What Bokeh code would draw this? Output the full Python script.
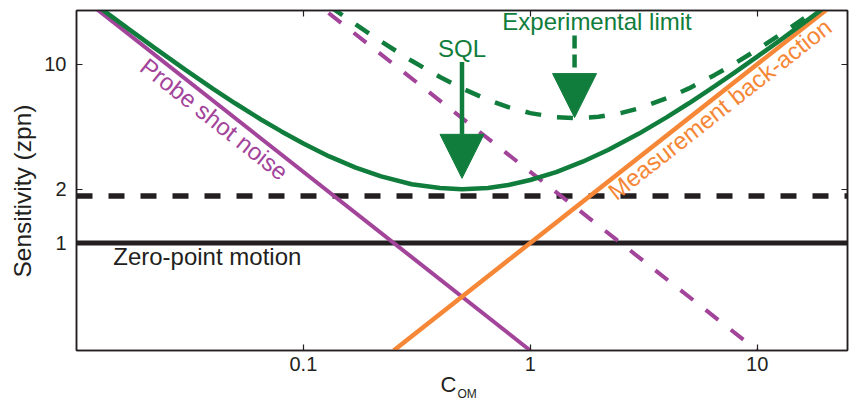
from bokeh.plotting import figure
from bokeh.models import (Range1d, FixedTicker, CustomJSTickFormatter, LogAxis,
                          Label, Arrow, NormalHead, Title)
from bokeh.embed import file_html
from bokeh.resources import INLINE

# ---------------- data ----------------
x_ticks = [0.1, 1, 10]
y_ticks = [1, 2, 10]

span_c = [0.01, 25.0]
zero_point = [1.0, 1.0]
added_noise = [1.83, 1.83]

shot_c = [0.01, 1.0]
shot_val = [25.0, 0.25]

shot_exp_c = [0.1, 10.0]
shot_exp_val = [25.0, 0.25]

ba_c = [0.25, 25.0]
ba_val = [0.25, 25.0]

sql_c = [0.01, 0.013, 0.017, 0.022, 0.03, 0.04, 0.05, 0.065, 0.08, 0.1, 0.13, 0.17,
         0.22, 0.3, 0.4, 0.5, 0.65, 0.8, 1.0, 1.3, 1.7, 2.2, 3.0, 4.0, 5.0, 6.5, 8.0,
         10.0, 13.0, 17.0, 22.0, 25.0]
sql_val = [26.01, 20.24, 15.73, 12.39, 9.36, 7.29, 6.05, 4.91, 4.21, 3.6, 3.05, 2.64,
           2.36, 2.13, 2.03, 2.0, 2.03, 2.11, 2.25, 2.49, 2.85, 3.31, 4.08, 5.06, 6.05,
           7.54, 9.03, 11.03, 14.02, 18.01, 23.01, 26.01]

exp_c = [0.1, 0.13, 0.17, 0.22, 0.3, 0.4, 0.5, 0.65, 0.8, 1.0, 1.3, 1.6, 2.0, 2.5, 3.0,
         4.0, 5.0, 6.5, 8.0, 10.0, 13.0, 17.0, 22.0, 25.0]
exp_val = [26.93, 21.19, 16.71, 13.41, 10.46, 8.48, 7.33, 6.33, 5.76, 5.33, 5.05, 4.99,
           5.08, 5.33, 5.66, 6.46, 7.33, 8.72, 10.14, 12.08, 15.02, 18.98, 23.94, 26.93]

# ---------------- style ----------------
GREEN = "#107d3c"
PURPLE = "#a3449b"
ORANGE = "#f58737"
BLACK = "#231f20"
FONT = "Liberation Sans"

p = figure(width=850, height=401, x_axis_type="log", y_axis_type="log",
           x_range=Range1d(0.01, 25), y_range=Range1d(0.25, 20),
           output_backend="svg", toolbar_location=None,
           min_border_left=76, min_border_right=3, min_border_top=10, min_border_bottom=51)
p.grid.visible = False
p.outline_line_color = BLACK
p.outline_line_width = 1.5
p.background_fill_color = "white"
p.border_fill_color = "white"

fmt = CustomJSTickFormatter(code="return tick.toString();")

def style_axis(ax, ticks, show_labels, standoff):
    ax.ticker = FixedTicker(ticks=ticks)
    ax.formatter = fmt
    ax.major_tick_in = 6
    ax.major_tick_out = 0
    ax.minor_tick_line_color = None
    ax.axis_line_color = BLACK
    ax.axis_line_width = 1.5
    ax.major_tick_line_color = BLACK
    ax.major_tick_line_width = 1.2
    ax.major_label_text_font = FONT
    ax.major_label_standoff = standoff
    if show_labels:
        ax.major_label_text_color = BLACK
        ax.major_label_text_font_size = "20px"
    else:
        ax.major_label_text_color = None
        ax.major_label_text_font_size = "1px"

style_axis(p.xaxis[0], x_ticks, True, 6)
style_axis(p.yaxis[0], y_ticks, True, 10)

top = LogAxis()
style_axis(top, x_ticks, False, 0)
p.add_layout(top, "above")
right = LogAxis()
style_axis(right, y_ticks, False, 0)
p.add_layout(right, "right")

# axis titles as Title objects so they can be placed precisely
def add_title(text, side, size, align, offset, standoff, valign):
    p.add_layout(Title(text=text, text_font=FONT, text_font_size=size,
                       text_font_style="normal", text_color=BLACK, align=align,
                       offset=offset, standoff=standoff, vertical_align=valign), side)

add_title("Sensitivity (zpn)", "left", "24.5px", "left", 73, 11, "bottom")
add_title("C", "below", "22px", "left", 364, -4, "top")
add_title("OM", "below", "12px", "left", 381, -19, "top")

# ---------------- lines ----------------
p.line(span_c, zero_point, line_color=BLACK, line_width=5)
p.line(span_c, added_noise, line_color=BLACK, line_width=5.5, line_dash="16 16")
p.line(shot_c, shot_val, line_color=PURPLE, line_width=4)
p.line(shot_exp_c, shot_exp_val, line_color=PURPLE, line_width=4, line_dash="16 16")
p.line(ba_c, ba_val, line_color=ORANGE, line_width=4.5)
p.line(exp_c, exp_val, line_color=GREEN, line_width=4.5, line_dash="16 16")
p.line(sql_c, sql_val, line_color=GREEN, line_width=4.5)

# ---------------- arrows ----------------
p.add_layout(Arrow(x_start=0.5, y_start=10.3, x_end=0.5, y_end=2.3,
                   line_color=GREEN, line_width=4.5,
                   end=NormalHead(size=44, fill_color=GREEN, line_color=GREEN, line_width=1)))
p.add_layout(Arrow(x_start=1.567, y_start=14.5, x_end=1.567, y_end=5.03,
                   line_color=GREEN, line_width=4.5, line_dash="13 6",
                   end=NormalHead(size=44, fill_color=GREEN, line_color=GREEN, line_width=1)))

# ---------------- texts ----------------
def add_label(x, y, text, color, size="24px", align="left", baseline="alphabetic", angle=0.0):
    p.add_layout(Label(x=x, y=y, text=text, text_color=color, text_font=FONT,
                       text_font_size=size, text_align=align, text_baseline=baseline,
                       angle=angle))

add_label(0.5, 12.3, "SQL", GREEN, align="center")
add_label(0.753, 17.4, "Experimental limit", GREEN)
add_label(0.01452, 0.841, "Zero-point motion", BLACK)
add_label(0.0405, 4.94, "Probe shot noise", PURPLE, align="center", baseline="middle", angle=-0.667)
add_label(6.84, 5.61, "Measurement back-action", ORANGE, align="center", baseline="middle", angle=0.667)

open("out.html", "w").write(file_html(p, INLINE))
